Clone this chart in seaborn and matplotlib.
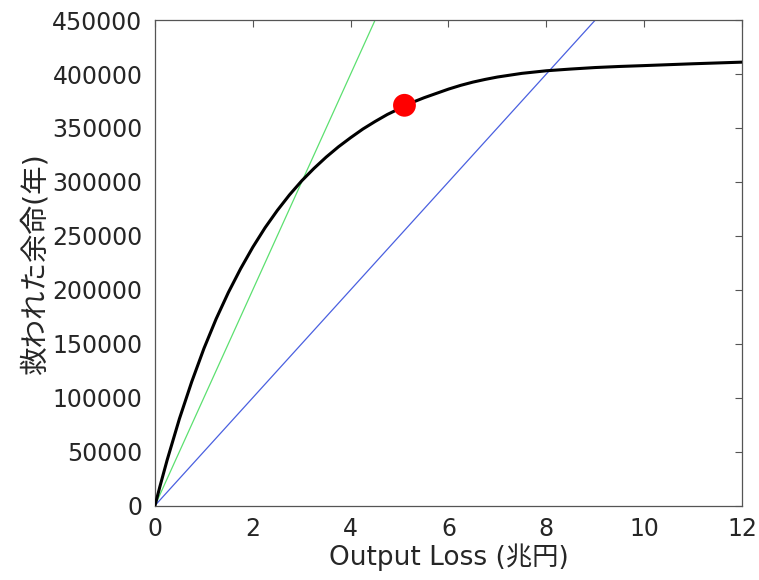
import numpy as np
import pandas as pd
import seaborn as sns
import matplotlib
matplotlib.use('Agg')
import matplotlib.pyplot as plt

# values
loss_x = [0, 0.1, 0.25, 0.5, 0.75, 1.0, 1.25, 1.5, 1.75, 2.0, 2.25, 2.5, 2.75,
          3.0, 3.25, 3.5, 3.75, 4.0, 4.25, 4.5, 4.75, 5.0, 5.25, 5.5, 5.75,
          6.0, 6.25, 6.5, 6.75, 7.0, 7.5, 8.0, 8.5, 9.0, 9.5, 10.0, 11.0, 12.0]
lives_y = [0, 17500, 42400, 80500, 114600, 145500, 173000, 197500, 219500,
           239500, 257500, 273500, 288000, 301000, 312500, 323000, 332500,
           341000, 349000, 356000, 362500, 368000, 373500, 378000, 382000,
           386000, 389500, 392500, 395000, 397200, 400600, 403000, 404600,
           406000, 407000, 407800, 409500, 411000]

green_x = [0, 4.5]
green_y = [0, 450000]
blue_x = [0, 9.0]
blue_y = [0, 450000]

point_x = [5.1]
point_y = [371000]

sns.set_style('white')
plt.rcParams['font.family'] = ['DejaVu Sans', 'Noto Sans CJK JP']

fig = plt.figure(figsize=(7.59, 5.80), dpi=100)
ax = fig.add_axes([0.2042, 0.1284, 0.7734, 0.837])

curve = pd.DataFrame({'x': loss_x, 'y': lives_y})
sns.lineplot(data=curve, x='x', y='y', color='black', linewidth=2.2, ax=ax, zorder=3)
sns.lineplot(x=green_x, y=green_y, color='#5ce070', linewidth=0.9, ax=ax, zorder=2)
sns.lineplot(x=blue_x, y=blue_y, color='#4a60e0', linewidth=0.9, ax=ax, zorder=2)
sns.scatterplot(x=point_x, y=point_y, color='#ff0000', s=270, edgecolor='none', ax=ax, zorder=4)

ax.set_xlim(0, 12)
ax.set_ylim(0, 450000)
ax.set_xticks(np.arange(0, 13, 2))
ax.set_yticks(np.arange(0, 450001, 50000))
ax.set_yticklabels([str(v) for v in range(0, 450001, 50000)])

ax.tick_params(direction='in', length=5, width=0.8, colors='#555555',
               labelcolor='#262626', labelsize=17, top=True, right=True)
ax.tick_params(axis='y', pad=9)
ax.tick_params(axis='x', pad=8)
for s in ax.spines.values():
    s.set_color('#555555')
    s.set_linewidth(0.9)

ax.set_xlabel('Output Loss (兆円)', fontsize=19, color='#262626', labelpad=2)
ax.set_ylabel('救われた余命(年)', fontsize=20.5, color='#262626', labelpad=2)

fig.savefig('out.png', dpi=100)
